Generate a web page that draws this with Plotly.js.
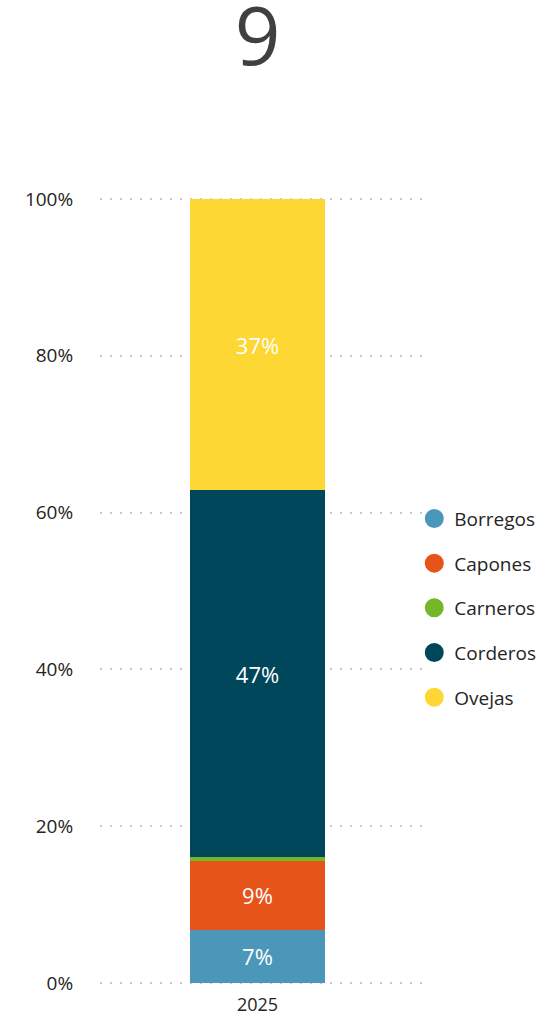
<!DOCTYPE html>
<html><head><meta charset="utf-8">
<script src="https://cdn.plot.ly/plotly-3.0.1.min.js"></script>
<style>html,body{margin:0;padding:0;background:#fff}#chart{width:545px;height:1017px}</style>
</head><body><div id="chart"></div>
<script>
const categories = ["2025"];
const seriesNames = ["Borregos", "Capones", "Carneros", "Corderos", "Ovejas"];
const borregos = [6.8];
const capones = [8.8];
const carneros = [0.45];
const corderos = [46.8];
const ovejas = [37.15];
const seriesColors = ["#4A97BA", "#E6541A", "#76B72A", "#00475C", "#FDD733"];
const yTickVals = [0, 20, 40, 60, 80, 100];
const yTickText = ["0%", "20%", "40%", "60%", "80%", "100%"];

const seriesValues = [borregos, capones, carneros, corderos, ovejas];
const FONT = "Open Sans, Noto Sans, sans-serif";
const traces = [];
seriesNames.forEach((name, i) => {
  const vals = seriesValues[i];
  traces.push({
    type: "bar", x: categories, y: vals, name: name,
    marker: {color: seriesColors[i], line: {width: 0}},
    text: vals.map(v => v >= 3 ? Math.round(v) + "%" : ""),
    texttemplate: "%{text}",
    textposition: "inside", insidetextanchor: "middle",
    textfont: {color: "#ffffff", size: 22, family: FONT},
    showlegend: false, hoverinfo: "skip", width: 0.418
  });
});
seriesNames.forEach((name, i) => {
  traces.push({
    type: "scatter", mode: "markers", x: [null], y: [null], name: name,
    legendgroup: name,
    marker: {color: seriesColors[i], size: 16, symbol: "circle",
             line: {color: seriesColors[i], width: 3}},
    showlegend: true, hoverinfo: "skip"
  });
});

const layout = {
  width: 545, height: 1017,
  margin: {l: 100, r: 122, t: 197, b: 32, pad: 0, autoexpand: false},
  paper_bgcolor: "#ffffff", plot_bgcolor: "#ffffff",
  barmode: "stack",
  title: {text: "9", xref: "container", x: 0.4725, xanchor: "center",
          yref: "container", y: 0.9635, yanchor: "middle",
          font: {size: 80, color: "#404040", family: FONT}},
  xaxis: {type: "category", range: [-0.4876, 0.5124], showgrid: false, showline: false, zeroline: false,
          ticks: "outside", ticklen: 3, tickcolor: "rgba(0,0,0,0)",
          tickfont: {size: 18, color: "#252423", family: FONT}},
  yaxis: {range: [-0.255, 100.255], tickvals: yTickVals, ticktext: yTickText,
          showgrid: true, gridcolor: "#C8C8C8", griddash: "2px,8px", gridwidth: 2,
          zeroline: false, showline: false,
          ticks: "outside", ticklen: 22, tickcolor: "rgba(0,0,0,0)",
          tickfont: {size: 19, color: "#252423", family: FONT}},
  showlegend: true,
  legend: {x: 0.973, xanchor: "left", y: 0.616, yanchor: "top",
           traceorder: "grouped", tracegroupgap: 17,
           font: {size: 19, color: "#252423", family: FONT},
           itemwidth: 30, bgcolor: "rgba(0,0,0,0)"}
};
Plotly.newPlot("chart", traces, layout, {displayModeBar: false, staticPlot: true});
</script></body></html>
